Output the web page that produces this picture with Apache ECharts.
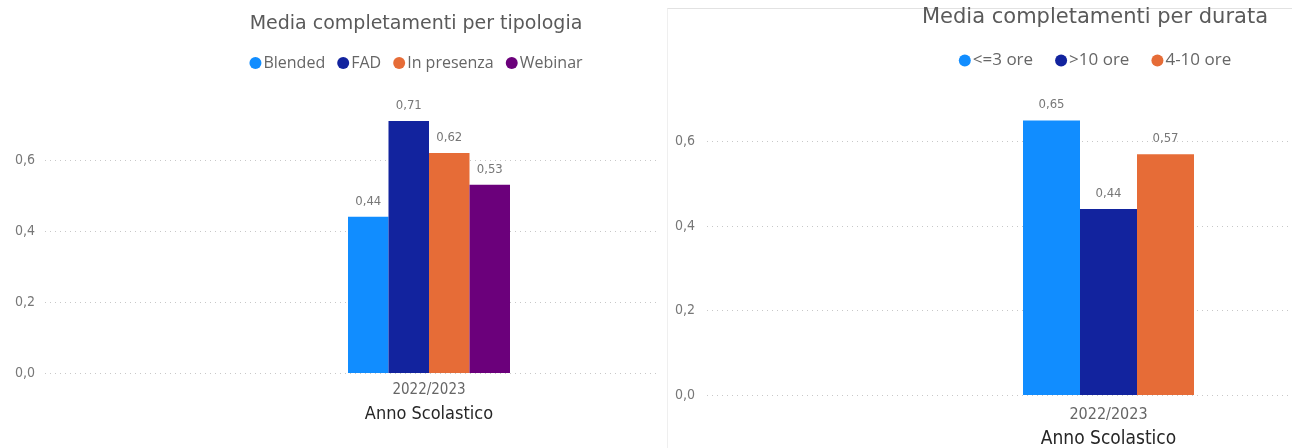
<!DOCTYPE html>
<html>
<head>
<meta charset="utf-8">
<script src="https://cdn.jsdelivr.net/npm/echarts@6/dist/echarts.min.js"></script>
<style>
  html, body { margin: 0; padding: 0; background: #fff; }
  body { width: 1292px; height: 448px; position: relative; overflow: hidden; }
  .clip { position: absolute; overflow: hidden; }
  #leftClip { left: 0; top: 0; width: 658px; height: 448px; background: #fff; }
  #rightEdge { position: absolute; left: 667px; top: 8px; width: 625px; height: 440px;
    border-top: 1px solid #e2e2e2; border-left: 1px solid #efefef; }
  #rightClip { left: 667px; top: 0; width: 625px; height: 448px; }
  #left { width: 832px; height: 448px; }
  #right { width: 856px; height: 448px; }
</style>
</head>
<body>
<div id="leftClip" class="clip"><div id="left"></div></div>
<div id="rightEdge"></div>
<div id="rightClip" class="clip"><div id="right"></div></div>
<script>
const years = ['2022/2023'];

const typeNames = ['Blended', 'FAD', 'In presenza', 'Webinar'];
const typeValues = [0.44, 0.71, 0.62, 0.53];
const typeColors = ['#118DFF', '#12239E', '#E66C37', '#6B007B'];

const durNames = ['<=3 ore', '>10 ore', '4-10 ore'];
const durValues = [0.65, 0.44, 0.57];
const durColors = ['#118DFF', '#12239E', '#E66C37'];

const yMax = 0.8;
const yStep = 0.2;

const titleFont = "'DejaVu Sans', sans-serif";
const condFont = "'DejaVu Sans Condensed', 'DejaVu Sans', sans-serif";
const bodyFont = "'Open Sans', 'Noto Sans', sans-serif";
const comma = v => String(v).replace('.', ',');

function buildOption(title, names, values, colors, lay) {
  return {
    animation: false,
    title: {
      text: title,
      left: 'center',
      top: lay.titleTop,
      padding: 0,
      textStyle: {color: '#5a5a5a', fontSize: lay.titleSize, fontWeight: 'normal', fontFamily: titleFont},
    },
    legend: {
      top: lay.legendTop,
      left: 'center',
      padding: 0,
      icon: 'circle',
      itemWidth: 12,
      itemHeight: 12,
      itemGap: lay.legendGap,
      data: names,
      textStyle: {color: '#666', fontSize: lay.legendSize, fontFamily: bodyFont, padding: [0, 0, 0, -3]},
    },
    grid: {left: lay.left, right: lay.right, top: lay.top, bottom: lay.bottom, outerBoundsMode: 'none'},
    xAxis: {
      type: 'category',
      data: years,
      axisLine: {show: false},
      axisTick: {show: false},
      axisLabel: {color: '#666', fontSize: lay.catSize, fontFamily: condFont, margin: lay.labelMargin},
      name: 'Anno Scolastico',
      nameLocation: 'middle',
      nameGap: lay.nameGap,
      nameTextStyle: {color: '#262626', fontSize: lay.nameSize, fontFamily: condFont},
    },
    yAxis: {
      type: 'value',
      min: 0,
      max: yMax,
      interval: yStep,
      axisLabel: {
        color: '#777', fontSize: 14, fontFamily: condFont, margin: lay.yMargin,
        showMaxLabel: false,
        formatter: v => v.toFixed(1).replace('.', ','),
      },
      splitLine: {showMaxLine: false, lineStyle: {color: '#c8c8c8', type: [1, 4], width: 1}},
    },
    series: names.map((n, i) => ({
      name: n,
      type: 'bar',
      data: [values[i]],
      color: colors[i],
      barWidth: lay.barWidth,
      barGap: '0%',
      label: {
        show: true,
        position: 'top',
        distance: 9,
        color: '#777',
        fontSize: 13,
        fontFamily: condFont,
        formatter: p => comma(p.value),
      },
    })),
  };
}

const leftChart = echarts.init(document.getElementById('left'));
leftChart.setOption(buildOption('Media completamenti per tipologia', typeNames, typeValues, typeColors, {
  titleTop: 15, titleSize: 19, legendTop: 55, legendGap: 12, legendSize: 16,
  left: 45, right: 19, top: 89, bottom: 75,
  barWidth: 40.5, labelMargin: 10, nameGap: 32, yMargin: 10, catSize: 15, nameSize: 18,
}));

const rightChart = echarts.init(document.getElementById('right'));
rightChart.setOption(buildOption('Media completamenti per durata', durNames, durValues, durColors, {
  titleTop: 7, titleSize: 21, legendTop: 52, legendGap: 22, legendSize: 17,
  left: 40, right: 13, top: 57, bottom: 53,
  barWidth: 57, labelMargin: 12, nameGap: 35, yMargin: 12, catSize: 16, nameSize: 19,
}));
</script>
</body>
</html>
